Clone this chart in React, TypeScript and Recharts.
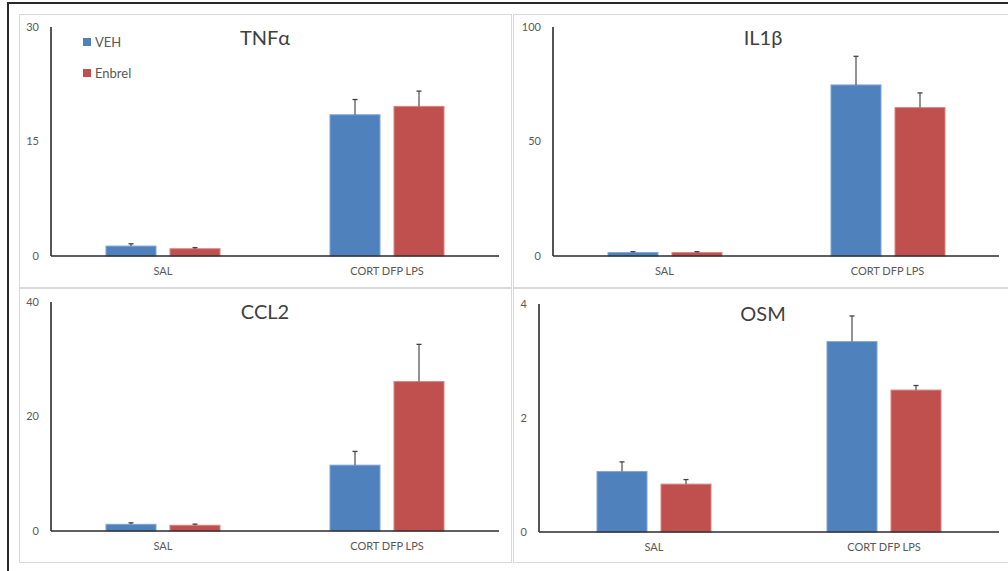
import React from "react";
import { BarChart, Bar, XAxis, YAxis, Legend } from "recharts";

const categories = ["SAL", "CORT DFP LPS"];
const seriesNames = ["VEH", "Enbrel"];

const tnfVeh = [1.3, 18.5];
const tnfVehErr = [0.3, 2.0];
const tnfEnb = [0.95, 19.6];
const tnfEnbErr = [0.15, 2.0];

const il1Veh = [1.5, 74.7];
const il1VehErr = [0.4, 12.5];
const il1Enb = [1.5, 64.8];
const il1EnbErr = [0.4, 6.4];

const ccl2Veh = [1.17, 11.5];
const ccl2VehErr = [0.25, 2.4];
const ccl2Enb = [1.0, 26.1];
const ccl2EnbErr = [0.2, 6.5];

const osmVeh = [1.06, 3.34];
const osmVehErr = [0.17, 0.45];
const osmEnb = [0.84, 2.49];
const osmEnbErr = [0.08, 0.08];

const tnfTicks = [0, 15, 30];
const il1Ticks = [0, 50, 100];
const ccl2Ticks = [0, 20, 40];
const osmTicks = [0, 2, 4];

const BLUE = "#4F81BD";
const RED = "#C0504D";
const AXIS = "#2b2b2b";
const TEXT = "#595959";
const FONT = "Lato, 'Open Sans', sans-serif";

function build(veh: number[], vehErr: number[], enb: number[], enbErr: number[]) {
  return categories.map((c, i) => ({
    cat: c,
    veh: veh[i],
    vehErr: vehErr[i],
    enb: enb[i],
    enbErr: enbErr[i],
  }));
}

const makeShape = (valueKey: string, errKey: string, stroke: string) => (props: any) => {
  const { x, y, width, height, fill, payload } = props;
  const v = payload[valueKey];
  const err = payload[errKey];
  const ppu = v ? height / v : 0;
  const top = y - err * ppu;
  const cx = x + width / 2;
  return (
    <g>
      <rect x={x} y={y} width={width} height={height} fill={fill} stroke={stroke} strokeWidth={1} />
      <line x1={cx} y1={y} x2={cx} y2={top} stroke="#595959" strokeWidth={1.3} />
      <line x1={cx - 2.5} y1={top} x2={cx + 2.5} y2={top} stroke="#404040" strokeWidth={1.3} />
    </g>
  );
};

const legendContent = (props: any) => {
  const payload = [...(props.payload || [])].sort(
    (a: any, b: any) => seriesNames.indexOf(a.value) - seriesNames.indexOf(b.value)
  );
  return (
    <div>
      {payload.map((e: any) => (
        <div key={e.value} style={{ display: "flex", alignItems: "center", height: 31 }}>
          <span style={{ width: 8, height: 8, background: e.color, display: "inline-block", marginRight: 4 }} />
          <span style={{ fontSize: 13, color: TEXT, fontFamily: FONT }}>{e.value}</span>
        </div>
      ))}
    </div>
  );
};

type PanelProps = {
  left: number;
  top: number;
  w: number;
  h: number;
  margin: { top: number; right: number; bottom: number; left: number };
  yWidth: number;
  ticks: number[];
  data: any[];
  title: string;
  titleX: number;
  titleY: number;
  legend?: boolean;
};

function Panel(p: PanelProps) {
  const max = p.ticks[p.ticks.length - 1];
  return (
    <div style={{ position: "absolute", left: p.left, top: p.top, width: p.w, height: p.h }}>
      <BarChart width={p.w} height={p.h} data={p.data} margin={p.margin} barSize={50} barGap={14}>
        <XAxis
          dataKey="cat"
          tickLine={false}
          tickSize={0}
          tickMargin={11}
          height={30}
          axisLine={{ stroke: AXIS, strokeWidth: 1.6 }}
          tick={{ fontSize: 11, fill: TEXT, fontFamily: FONT }}
        />
        <YAxis
          domain={[0, max]}
          ticks={p.ticks}
          width={p.yWidth}
          tickLine={false}
          tickSize={0}
          tickMargin={12}
          axisLine={{ stroke: AXIS, strokeWidth: 1.6 }}
          tick={{ fontSize: 11, fill: TEXT, fontFamily: FONT }}
          interval={0}
        />
        {p.legend && (
          <Legend
            layout="vertical"
            align="center"
            verticalAlign="middle"
            content={legendContent}
            wrapperStyle={{ left: 64, top: 12, width: 100 }}
          />
        )}
        <Bar
          dataKey="veh"
          name={seriesNames[0]}
          fill={BLUE}
          isAnimationActive={false}
          shape={makeShape("veh", "vehErr", "#7FA4D6")}
        />
        <Bar
          dataKey="enb"
          name={seriesNames[1]}
          fill={RED}
          isAnimationActive={false}
          shape={makeShape("enb", "enbErr", "#D88381")}
        />
      </BarChart>
      <div
        style={{
          position: "absolute",
          left: p.titleX - 100,
          top: p.titleY - 13,
          width: 200,
          textAlign: "center",
          fontSize: 20,
          color: "#404040",
          fontFamily: FONT,
          lineHeight: "26px",
        }}
      >
        {p.title}
      </div>
    </div>
  );
}

export default function App() {
  const panelBorder = "1.5px solid #d9d9d9";
  return (
    <div
      style={{
        position: "absolute",
        left: 0,
        top: 0,
        width: 1008,
        height: 571,
        background: "#fff",
        overflow: "hidden",
        fontFamily: FONT,
      }}
    >
      <div
        style={{
          position: "absolute",
          left: 7,
          top: 2,
          width: 1100,
          height: 700,
          borderTop: "2px solid #2a2a2a",
          borderLeft: "2px solid #2a2a2a",
        }}
      />
      <div style={{ position: "absolute", left: 19, top: 14, width: 493, height: 274, border: panelBorder, boxSizing: "border-box" }} />
      <div style={{ position: "absolute", left: 513, top: 14, width: 500, height: 274, border: panelBorder, boxSizing: "border-box" }} />
      <div style={{ position: "absolute", left: 19, top: 288, width: 493, height: 275, border: panelBorder, boxSizing: "border-box" }} />
      <div style={{ position: "absolute", left: 513, top: 288, width: 500, height: 275, border: panelBorder, boxSizing: "border-box" }} />

      <Panel
        left={19}
        top={14}
        w={493}
        h={274}
        margin={{ top: 13, right: 13, bottom: 2, left: 2 }}
        yWidth={30}
        ticks={tnfTicks}
        data={build(tnfVeh, tnfVehErr, tnfEnb, tnfEnbErr)}
        title="TNFα"
        titleX={246}
        titleY={23}
        legend
      />
      <Panel
        left={513}
        top={14}
        w={495}
        h={274}
        margin={{ top: 13, right: 9, bottom: 2, left: 2 }}
        yWidth={38}
        ticks={il1Ticks}
        data={build(il1Veh, il1VehErr, il1Enb, il1EnbErr)}
        title="IL1β"
        titleX={250}
        titleY={23}
      />
      <Panel
        left={19}
        top={288}
        w={493}
        h={275}
        margin={{ top: 14, right: 13, bottom: 2, left: 2 }}
        yWidth={30}
        ticks={ccl2Ticks}
        data={build(ccl2Veh, ccl2VehErr, ccl2Enb, ccl2EnbErr)}
        title="CCL2"
        titleX={246}
        titleY={23}
      />
      <Panel
        left={513}
        top={288}
        w={495}
        h={275}
        margin={{ top: 16, right: 9, bottom: 1, left: 2 }}
        yWidth={24}
        ticks={osmTicks}
        data={build(osmVeh, osmVehErr, osmEnb, osmEnbErr)}
        title="OSM"
        titleX={250}
        titleY={25}
      />
    </div>
  );
}
